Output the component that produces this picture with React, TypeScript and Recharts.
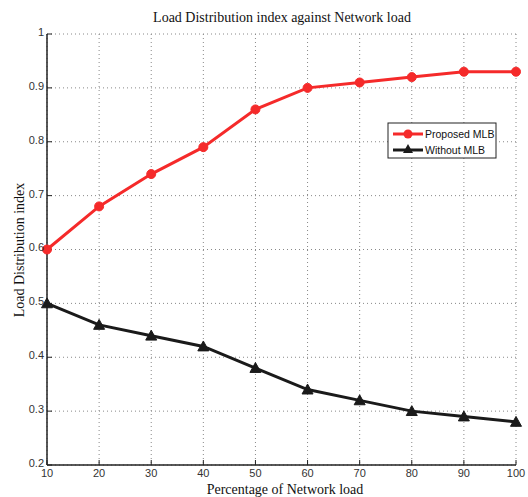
import React from 'react';
import { LineChart, Line, XAxis, YAxis, CartesianGrid, Customized } from 'recharts';

const loads = [10, 20, 30, 40, 50, 60, 70, 80, 90, 100];
const proposedMLB = [0.6, 0.68, 0.74, 0.79, 0.86, 0.9, 0.91, 0.92, 0.93, 0.93];
const withoutMLB = [0.5, 0.46, 0.44, 0.42, 0.38, 0.34, 0.32, 0.3, 0.29, 0.28];
const xTicks = [10, 20, 30, 40, 50, 60, 70, 80, 90, 100];
const yTicks = [0.2, 0.3, 0.4, 0.5, 0.6, 0.7, 0.8, 0.9, 1];
const seriesNames = ['Proposed MLB', 'Without MLB'];

const data = loads.map((l, i) => ({ load: l, proposed: proposedMLB[i], without: withoutMLB[i] }));

const RED = '#f52a2a';
const BLACK = '#1a1a1a';

const Circle = (props: any) => {
  const { cx, cy } = props;
  if (cx == null || cy == null) return null;
  return <circle cx={cx} cy={cy} r={4.5} fill={RED} stroke={RED} />;
};
const Tri = (props: any) => {
  const { cx, cy } = props;
  if (cx == null || cy == null) return null;
  const s = 5.5;
  return <polygon points={`${cx},${cy - s} ${cx - s},${cy + s * 0.8} ${cx + s},${cy + s * 0.8}`} fill={BLACK} stroke={BLACK} />;
};

const serif = 'Liberation Serif, Times New Roman';
const sans = 'Liberation Sans, Arial';

const Overlay = () => (
  <g>
    <text x={282} y={22} textAnchor="middle" fontFamily={serif} fontSize={14} fill="#111">Load Distribution index against Network load</text>
    <text x={285} y={494} textAnchor="middle" fontFamily={serif} fontSize={14} fill="#111">Percentage of Network load</text>
    <text x={24} y={250} textAnchor="middle" fontFamily={serif} fontSize={14} fill="#111" transform="rotate(-90 24 250)">Load Distribution index</text>
    <g>
      <rect x={388} y={123} width={108} height={35} fill="#fff" stroke="#222" strokeWidth={1} />
      <line x1={393} y1={134} x2={423} y2={134} stroke={RED} strokeWidth={3} />
      <circle cx={408} cy={134} r={4.5} fill={RED} />
      <text x={425} y={137.5} fontFamily={sans} fontSize={10.5} fill="#111">{seriesNames[0]}</text>
      <line x1={393} y1={150} x2={423} y2={150} stroke={BLACK} strokeWidth={3} />
      <polygon points="408,144 403,153 413,153" fill={BLACK} />
      <text x={425} y={153.5} fontFamily={sans} fontSize={10.5} fill="#111">{seriesNames[1]}</text>
    </g>
  </g>
);

const tickStyle = { fontFamily: sans, fontSize: 11, fill: '#333' };
const blank = () => '';

export default function App() {
  return (
    <div style={{ position: 'absolute', left: 0, top: 0, background: '#fff' }}>
      <LineChart width={528} height={497} data={data} margin={{ top: 34, right: 12, left: 0, bottom: 0 }}>
        <CartesianGrid xAxisId="b" yAxisId="l" stroke="#888" strokeDasharray="1 3" horizontalValues={yTicks} verticalValues={xTicks} />
        <XAxis xAxisId="b" dataKey="load" type="number" domain={[10, 100]} ticks={xTicks} height={32}
          axisLine={{ stroke: '#222', strokeWidth: 1.5 }} tickLine={{ stroke: '#222' }} tickSize={-5} tickMargin={9} tick={tickStyle} />
        <XAxis xAxisId="t" dataKey="load" type="number" domain={[10, 100]} ticks={xTicks} orientation="top" height={0}
          axisLine={{ stroke: '#222', strokeWidth: 1.5 }} tickLine={{ stroke: '#222' }} tickSize={-5} tickFormatter={blank} />
        <YAxis yAxisId="l" type="number" domain={[0.2, 1]} ticks={yTicks} width={47}
          axisLine={{ stroke: '#222', strokeWidth: 1.5 }} tickLine={{ stroke: '#222' }} tickSize={-5} tickMargin={8}
          tick={{ ...tickStyle, dy: -2 }}
          tickFormatter={(v: number) => String(Number(v.toFixed(1)))} />
        <YAxis yAxisId="r" type="number" domain={[0.2, 1]} ticks={yTicks} orientation="right" width={0}
          axisLine={{ stroke: '#222', strokeWidth: 1.5 }} tickLine={{ stroke: '#222' }} tickSize={-5} tickFormatter={blank} />
        <Line xAxisId="b" yAxisId="l" dataKey="proposed" name={seriesNames[0]} stroke={RED} strokeWidth={3} dot={<Circle />} activeDot={false} isAnimationActive={false} />
        <Line xAxisId="b" yAxisId="l" dataKey="without" name={seriesNames[1]} stroke={BLACK} strokeWidth={3} dot={<Tri />} activeDot={false} isAnimationActive={false} />
        <Customized component={Overlay} />
      </LineChart>
    </div>
  );
}
